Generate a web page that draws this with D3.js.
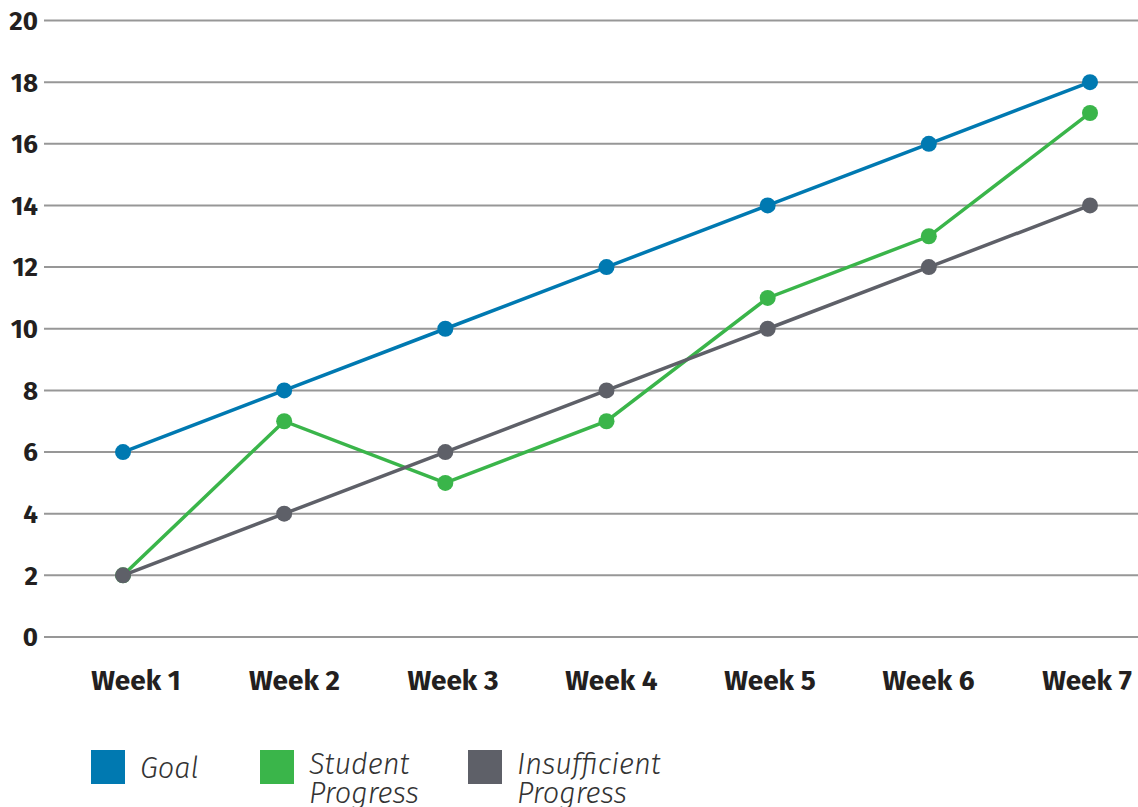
<!DOCTYPE html>
<html><head><meta charset="utf-8">
<script src="https://cdn.jsdelivr.net/npm/d3@7"></script>
<style>body{margin:0;background:#fff}svg{display:block}</style>
</head><body>
<script>
const weeks = ["Week 1","Week 2","Week 3","Week 4","Week 5","Week 6","Week 7"];
const goal = [6,8,10,12,14,16,18];
const student = [2,7,5,7,11,13,17];
const insufficient = [2,4,6,8,10,12,14];
const yTicks = [0,2,4,6,8,10,12,14,16,18,20];
const seriesNames = ["Goal","Student Progress","Insufficient Progress"];
const seriesColors = ["#0079b1","#3ab54a","#5e6068"];

const W = 1138, H = 807;
const svg = d3.select("body").append("svg").attr("width", W).attr("height", H);

const y = d3.scaleLinear().domain([0,20]).range([637, 20.5]);
const x = d3.scalePoint().domain(weeks).range([123, 1090]);
const xl = d3.scalePoint().domain(weeks).range([136, 1087]);

// gridlines
svg.append("g").selectAll("line").data(yTicks).join("line")
  .attr("x1", 44).attr("x2", W)
  .attr("y1", d => y(d)).attr("y2", d => y(d))
  .attr("stroke", "#979797").attr("stroke-width", 2);

// y labels
svg.append("g").selectAll("text").data(yTicks).join("text")
  .attr("x", 38).attr("y", d => y(d)).attr("dy", "0.36em")
  .attr("text-anchor", "end")
  .attr("font-family", "'Fira Sans','Noto Sans',sans-serif")
  .attr("font-weight", 700).attr("font-size", 26).attr("fill", "#231f20")
  .text(d => d);

// x labels
svg.append("g").selectAll("text").data(weeks).join("text")
  .attr("x", d => xl(d)).attr("y", 690)
  .attr("text-anchor", "middle")
  .attr("font-family", "'Fira Sans','Noto Sans',sans-serif")
  .attr("font-weight", 700).attr("font-size", 28).attr("fill", "#231f20")
  .text(d => d);

const series = [
  {name: seriesNames[1], values: student, color: seriesColors[1]},
  {name: seriesNames[2], values: insufficient, color: seriesColors[2]},
  {name: seriesNames[0], values: goal, color: seriesColors[0]}
];
const line = d3.line().x((d,i) => x(weeks[i])).y(d => y(d));
series.forEach(s => {
  const g = svg.append("g");
  g.append("path").datum(s.values).attr("d", line)
    .attr("fill", "none").attr("stroke", s.color).attr("stroke-width", 3.5);
  g.selectAll("circle").data(s.values).join("circle")
    .attr("cx", (d,i) => x(weeks[i])).attr("cy", d => y(d)).attr("r", 8)
    .attr("fill", s.color);
});

// legend
const legend = [
  {lines: ["Goal"], color: seriesColors[0], x: 91, ty: 778},
  {lines: ["Student", "Progress"], color: seriesColors[1], x: 260, ty: 774},
  {lines: ["Insufficient", "Progress"], color: seriesColors[2], x: 468, ty: 774}
];
legend.forEach(l => {
  svg.append("rect").attr("x", l.x).attr("y", 750).attr("width", 34).attr("height", 34).attr("fill", l.color);
  const t = svg.append("text").attr("x", l.x + 49).attr("y", l.ty)
    .attr("font-family", "'Fira Sans','Open Sans',sans-serif")
    .attr("font-style", "italic").attr("font-weight", 300)
    .attr("font-size", 29).attr("fill", "#333");
  l.lines.forEach((ln, i) => {
    t.append("tspan").attr("x", l.x + 49).attr("dy", i === 0 ? 0 : 29).text(ln);
  });
});
</script>
</body></html>
